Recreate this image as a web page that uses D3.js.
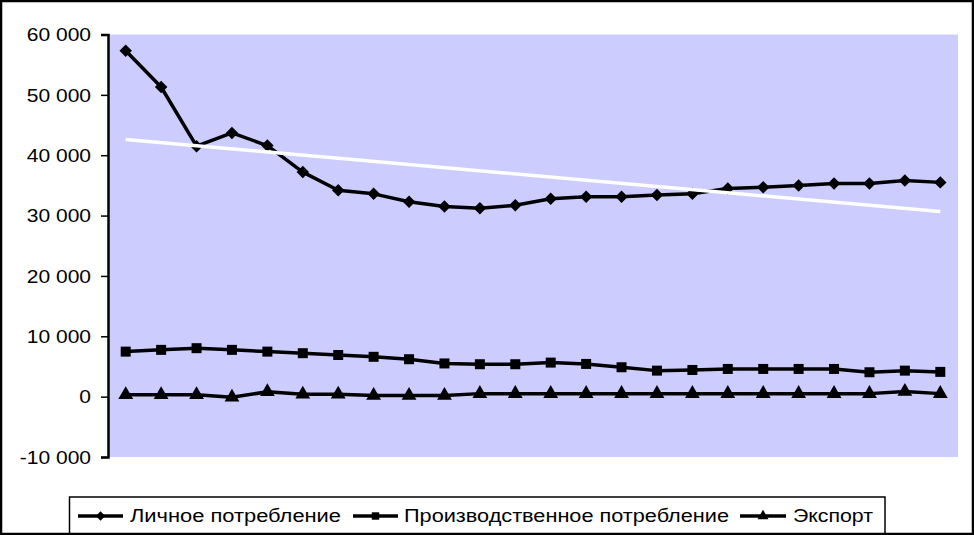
<!DOCTYPE html>
<html><head><meta charset="utf-8">
<script src="https://cdn.jsdelivr.net/npm/d3@7"></script>
<style>
html,body{margin:0;padding:0;background:#fff;}
svg{display:block;font-family:"Liberation Sans",Arial,sans-serif;}
</style></head>
<body>
<svg id="chart" width="974" height="535"></svg>
<script>
const categories = d3.range(1, 25);
const personal = [57300, 51300, 41500, 43700, 41600, 37200, 34200, 33600, 32300, 31500, 31200, 31700,
                  32800, 33100, 33100, 33400, 33600, 34500, 34700, 35000, 35300, 35300, 35800, 35500];
const industrial = [7460, 7750, 8030, 7750, 7460, 7200, 6900, 6600, 6200, 5500, 5370, 5370,
                    5640, 5420, 4870, 4310, 4420, 4590, 4590, 4590, 4590, 4040, 4310, 4100];
const exportS = [300, 300, 300, -100, 800, 400, 400, 200, 200, 200, 500, 500,
                 500, 500, 500, 500, 500, 500, 500, 500, 500, 500, 850, 500];
const yTicks = [-10000, 0, 10000, 20000, 30000, 40000, 50000, 60000];
const seriesNames = ["Личное потребление", "Производственное потребление", "Экспорт"];
const symbols = [d3.symbolSquare, d3.symbolSquare, d3.symbolTriangle];
const rotations = [45, 0, 0];

const svg = d3.select("#chart");
const W = 974, H = 535;
const plot = {left: 108, right: 958, top: 34.5, bottom: 457};

svg.append("rect").attr("x", 0).attr("y", 0).attr("width", W).attr("height", H).attr("fill", "#fff");

const x = d3.scalePoint().domain(categories).range([plot.left, plot.right]).padding(0.5);
const y = d3.scaleLinear().domain([-10000, 60000]).range([plot.bottom, plot.top]);

svg.append("rect").attr("x", plot.left).attr("y", plot.top)
  .attr("width", plot.right - plot.left).attr("height", plot.bottom - plot.top)
  .attr("fill", "#ccccff");

// y axis
const fmt = v => d3.format(",")(v).replace(/,/g, " ").replace("−", "-");
const yAxis = svg.append("g").attr("transform", `translate(${plot.left},0)`)
  .call(d3.axisLeft(y).tickValues(yTicks).tickFormat(fmt).tickSize(7).tickPadding(10));
yAxis.select(".domain").attr("stroke", "#000").attr("stroke-width", 2.5);
yAxis.selectAll(".tick line").attr("stroke", "#000").attr("stroke-width", 1.5);
yAxis.selectAll(".tick text").attr("fill", "#000").attr("font-size", 17.5)
  .attr("font-family", "'Liberation Sans', Arial, sans-serif")
  .attr("dy", "0.36em")
  .each(function() { const l = this.getComputedTextLength(); d3.select(this).attr("textLength", l * 1.2).attr("lengthAdjust", "spacingAndGlyphs"); });

const line = d3.line().x((d, i) => x(categories[i])).y(d => y(d));
const allSeries = [personal, industrial, exportS];
const sizes = [78, 100, 95];

allSeries.forEach((s, k) => {
  svg.append("path").datum(s).attr("d", line).attr("fill", "none")
    .attr("stroke", "#000").attr("stroke-width", 3.5).attr("stroke-linejoin", "round");
  svg.append("g").selectAll("path").data(s).join("path")
    .attr("transform", (d, i) => `translate(${x(categories[i])},${y(d)}) rotate(${rotations[k]})`)
    .attr("d", d3.symbol().type(symbols[k]).size(sizes[k])).attr("fill", "#000");
});

// linear trend of personal consumption
const n = personal.length;
const xs = d3.range(1, n + 1);
const mx = d3.mean(xs), my = d3.mean(personal);
const slope = d3.sum(xs.map((v, i) => (v - mx) * (personal[i] - my))) / d3.sum(xs.map(v => (v - mx) ** 2));
const icpt = my - slope * mx;
svg.append("line")
  .attr("x1", x(categories[0])).attr("y1", y(icpt + slope * 1))
  .attr("x2", x(categories[n - 1])).attr("y2", y(icpt + slope * n))
  .attr("stroke", "#fff").attr("stroke-width", 3.5);

// legend
const lg = svg.append("g");
lg.append("rect").attr("x", 69.5).attr("y", 497).attr("width", 815.5).attr("height", 45)
  .attr("fill", "#fff").attr("stroke", "#000").attr("stroke-width", 1.5);
const legendItems = [
  {lx1: 78, lx2: 123, tx: 130, tw: 211},
  {lx1: 353, lx2: 398, tx: 404, tw: 325},
  {lx1: 740, lx2: 786, tx: 793, tw: 80}
];
legendItems.forEach((it, k) => {
  const ly = 516;
  lg.append("line").attr("x1", it.lx1).attr("x2", it.lx2).attr("y1", ly).attr("y2", ly)
    .attr("stroke", "#000").attr("stroke-width", 3.5);
  lg.append("path").attr("transform", `translate(${(it.lx1 + it.lx2) / 2},${ly}) rotate(${rotations[k]})`)
    .attr("d", d3.symbol().type(symbols[k]).size(sizes[k] * 0.55)).attr("fill", "#000");
  lg.append("text").attr("x", it.tx).attr("y", 522).attr("font-size", 18).attr("fill", "#000")
    .attr("textLength", it.tw).attr("lengthAdjust", "spacingAndGlyphs").text(seriesNames[k]);
});

// outer frame
svg.append("rect").attr("x", 1).attr("y", 1).attr("width", W - 2).attr("height", H - 2)
  .attr("fill", "none").attr("stroke", "#000").attr("stroke-width", 2.5);
</script>
</body></html>
